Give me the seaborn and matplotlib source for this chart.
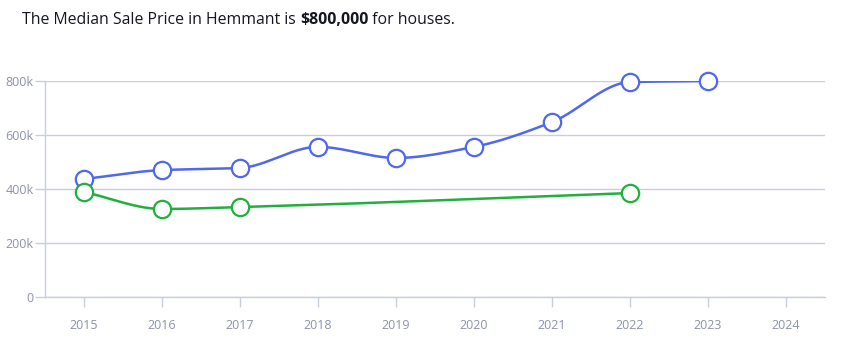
import numpy as np
import pandas as pd
import matplotlib
matplotlib.use("Agg")
import matplotlib.pyplot as plt
import seaborn as sns

years_blue = [2015, 2016, 2017, 2018, 2019, 2020, 2021, 2022, 2023]
price_blue = [437000, 470000, 478000, 556000, 515000, 556000, 648000, 796000, 800000]
years_green = [2015, 2016, 2017, 2022]
price_green = [389000, 326000, 333000, 385000]
x_ticks = list(range(2015, 2025))
y_ticks = [0, 200000, 400000, 600000, 800000]
y_labels = ["0", "200k", "400k", "600k", "800k"]

BLUE = "#5068ec"
GREEN = "#22b03c"
GRID = "#c6d0dd"
TICKC = "#8c93aa"

sns.set_theme(style="white")
plt.rcParams["font.family"] = ["Open Sans", "DejaVu Sans"]


def pchip(x, y, n=60):
    x = np.asarray(x, float)
    y = np.asarray(y, float)
    h = np.diff(x)
    d = np.diff(y) / h
    m = np.zeros_like(y)
    for i in range(1, len(y) - 1):
        if d[i - 1] * d[i] <= 0:
            m[i] = 0
        else:
            w1 = 2 * h[i] + h[i - 1]
            w2 = h[i] + 2 * h[i - 1]
            m[i] = (w1 + w2) / (w1 / d[i - 1] + w2 / d[i])
    m[0] = d[0]
    m[-1] = d[-1]
    xs, ys = [], []
    for i in range(len(x) - 1):
        t = np.linspace(0, 1, n)
        hh = h[i]
        h00 = 2 * t**3 - 3 * t**2 + 1
        h10 = t**3 - 2 * t**2 + t
        h01 = -2 * t**3 + 3 * t**2
        h11 = t**3 - t**2
        xs.append(x[i] + t * hh)
        ys.append(h00 * y[i] + h10 * hh * m[i] + h01 * y[i + 1] + h11 * hh * m[i + 1])
    return np.concatenate(xs), np.concatenate(ys)


fig = plt.figure(figsize=(8.43, 3.40), dpi=100)
ax = fig.add_axes([45 / 843, 43 / 340, 780 / 843, 216 / 340])

for yrs, vals, col in [(years_blue, price_blue, BLUE), (years_green, price_green, GREEN)]:
    xs, ys = pchip(yrs, vals)
    sns.lineplot(x=xs, y=ys, ax=ax, color=col, linewidth=1.8, sort=False, estimator=None)
    df = pd.DataFrame({"year": yrs, "price": vals})
    ax.plot(df["year"], df["price"], linestyle="none", marker="o", markersize=12.5,
            markerfacecolor="white", markeredgecolor=col, markeredgewidth=1.6,
            clip_on=False, zorder=5)

ax.set_xlim(2014.5, 2024.5)
ax.set_ylim(0, 800000)
ax.set_xticks(x_ticks)
ax.set_xticklabels([str(v) for v in x_ticks])
ax.set_yticks(y_ticks)
ax.set_yticklabels(y_labels)
ax.grid(axis="y", color=GRID, linewidth=1)
ax.set_axisbelow(True)
for s in ["top", "right"]:
    ax.spines[s].set_visible(False)
for s in ["left", "bottom"]:
    ax.spines[s].set_color(GRID)
    ax.spines[s].set_linewidth(1)
ax.tick_params(axis="x", length=7, width=1, color=GRID, pad=9, labelsize=9, labelcolor=TICKC, direction="out", bottom=True)
ax.tick_params(axis="y", length=7, width=1, color=GRID, pad=1, labelsize=9, labelcolor=TICKC, direction="out", left=True)
ax.set_xlabel("")
ax.set_ylabel("")

# Title
fig.canvas.draw()
r = fig.canvas.get_renderer()
ty = 1 - 20 / 340
fs = 11.4
t1 = fig.text(22 / 843, ty, "The Median Sale Price in Hemmant is ", fontsize=fs, color="#14161f", va="center", ha="left")
bb = t1.get_window_extent(r)
t2 = fig.text(bb.x1 / 843, ty, "$800,000", fontsize=fs, color="#14161f", va="center", ha="left", fontweight="bold")
bb2 = t2.get_window_extent(r)
fig.text(bb2.x1 / 843, ty, " for houses.", fontsize=fs, color="#14161f", va="center", ha="left")

fig.savefig("out.png", dpi=100)
